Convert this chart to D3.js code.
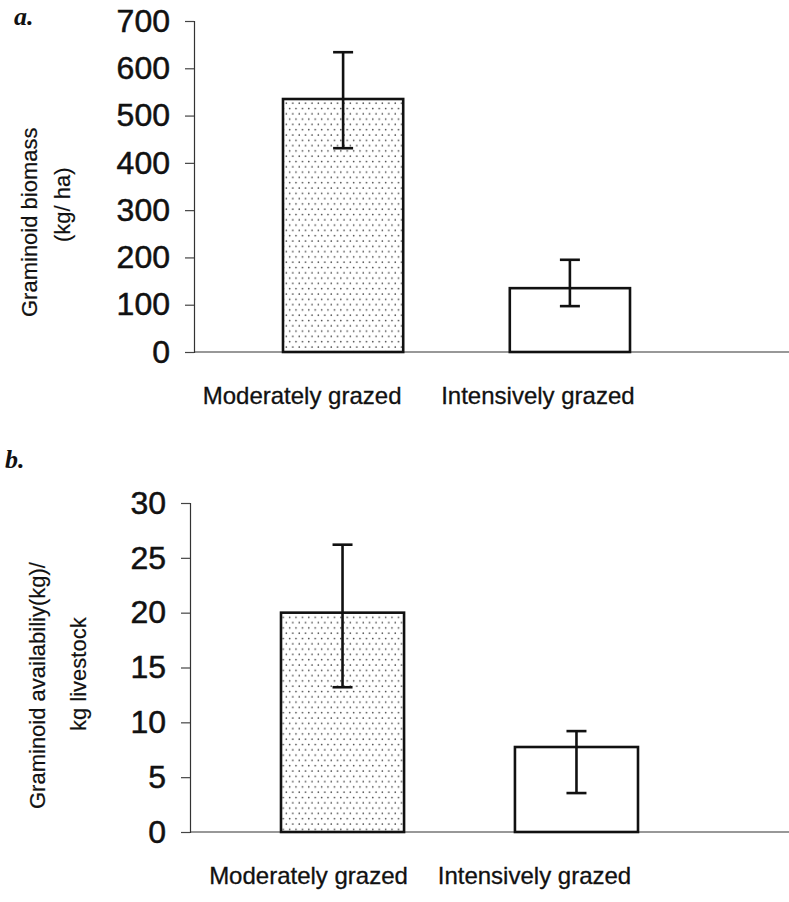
<!DOCTYPE html>
<html>
<head>
<meta charset="utf-8">
<script src="https://cdn.jsdelivr.net/npm/d3@7"></script>
<style>
  html, body { margin: 0; padding: 0; background: #fff; }
  svg { display: block; }
  text { fill: #111; }
</style>
</head>
<body>
<div id="chart"></div>
<script>
// Grazing treatments shown in both panels
const categories = ["Moderately grazed", "Intensively grazed"];

// Panel a: graminoid biomass (kg/ha), mean with error-bar limits
const biomassMean  = [535, 135];
const biomassUpper = [634, 195];
const biomassLower = [431, 97];
const biomassTicks = [0, 100, 200, 300, 400, 500, 600, 700];

// Panel b: graminoid availability (kg) per kg livestock
const availMean  = [20, 7.75];
const availUpper = [26.2, 9.2];
const availLower = [13.2, 3.55];
const availTicks = [0, 5, 10, 15, 20, 25, 30];

const SANS = "'Liberation Sans', Arial, sans-serif";
const SERIF = "'Liberation Serif', 'Times New Roman', serif";

const W = 789, H = 902;
const svg = d3.select("#chart").append("svg")
  .attr("width", W).attr("height", H);

// Stippled fill for the moderately grazed bars
const defs = svg.append("defs");
const pat = defs.append("pattern")
  .attr("id", "stipple")
  .attr("patternUnits", "userSpaceOnUse")
  .attr("width", 6.4).attr("height", 10.6);
pat.append("rect").attr("width", 6.4).attr("height", 10.6).attr("fill", "#fff");
pat.append("circle").attr("cx", 1.6).attr("cy", 2.6).attr("r", 0.8).attr("fill", "#3a3a3a");
pat.append("circle").attr("cx", 4.8).attr("cy", 7.9).attr("r", 0.8).attr("fill", "#3a3a3a");

const fills = ["url(#stipple)", "#fff"];

function panel(cfg) {
  const g = svg.append("g");
  const y = d3.scaleLinear().domain(cfg.domain).range([cfg.y0, cfg.y1]);
  const x = d3.scaleBand().domain(categories)
    .range(cfg.xRange).paddingInner(cfg.pad).paddingOuter(0);

  // baseline across the plot
  g.append("line")
    .attr("x1", cfg.axisX).attr("x2", cfg.baseEnd)
    .attr("y1", y(0)).attr("y2", y(0))
    .attr("stroke", "#333").attr("stroke-width", 1.2);

  // y axis
  const axis = d3.axisLeft(y).tickValues(cfg.ticks).tickSize(9).tickPadding(15)
    .tickFormat(d3.format("d"));
  const ax = g.append("g").attr("transform", `translate(${cfg.axisX},0)`).call(axis);
  ax.select(".domain").attr("stroke", "#333").attr("stroke-width", 1.2);
  ax.selectAll(".tick line").attr("stroke", "#444").attr("stroke-width", 1.2);
  ax.selectAll(".tick text")
    .style("font-family", SANS)
    .style("font-size", cfg.tickFont + "px")
    .style("fill", "#111")
    .style("stroke", "#111").style("stroke-width", 0.5);

  // bars
  g.selectAll("rect.bar").data(cfg.mean).join("rect")
    .attr("class", "bar")
    .attr("x", (d, i) => x(categories[i]))
    .attr("width", x.bandwidth())
    .attr("y", d => y(d))
    .attr("height", d => y(0) - y(d))
    .attr("fill", (d, i) => fills[i])
    .attr("stroke", "#111").attr("stroke-width", 2.6);

  // error bars
  const cap = 10;
  const eb = g.selectAll("g.err").data(cfg.mean).join("g").attr("class", "err");
  eb.append("line")
    .attr("x1", (d, i) => x(categories[i]) + x.bandwidth() / 2)
    .attr("x2", (d, i) => x(categories[i]) + x.bandwidth() / 2)
    .attr("y1", (d, i) => y(cfg.upper[i]))
    .attr("y2", (d, i) => y(cfg.lower[i]))
    .attr("stroke", "#111").attr("stroke-width", 2.6);
  ["upper", "lower"].forEach(k => {
    eb.append("line")
      .attr("x1", (d, i) => x(categories[i]) + x.bandwidth() / 2 - cap)
      .attr("x2", (d, i) => x(categories[i]) + x.bandwidth() / 2 + cap)
      .attr("y1", (d, i) => y(cfg[k][i]))
      .attr("y2", (d, i) => y(cfg[k][i]))
      .attr("stroke", "#111").attr("stroke-width", 2.6);
  });

  // category labels
  g.selectAll("text.cat").data(categories).join("text")
    .attr("class", "cat")
    .attr("x", (d, i) => x(d) + x.bandwidth() / 2 + cfg.labelShift[i])
    .attr("y", cfg.labelY)
    .attr("text-anchor", "middle")
    .style("font-family", SANS)
    .style("font-size", cfg.labelFont + "px")
    .style("stroke", "#111").style("stroke-width", 0.3)
    .text(d => d);

  // y-axis titles (two rotated lines)
  cfg.titles.forEach(t => {
    g.append("text")
      .attr("transform", `translate(${t.x},${t.y}) rotate(-90)`)
      .attr("text-anchor", "start")
      .style("font-family", SANS)
      .style("font-size", t.size + "px")
      .style("stroke", "#111").style("stroke-width", 0.2)
      .text(t.text);
  });

  // panel letter
  g.append("text")
    .attr("x", cfg.letter.x).attr("y", cfg.letter.y)
    .style("font-family", SERIF)
    .style("font-weight", "bold").style("font-style", "italic")
    .style("font-size", "26px")
    .text(cfg.letter.text);
}

panel({
  domain: [0, 700], y0: 352, y1: 21,
  xRange: [283, 630], pad: 0.47,
  axisX: 194, baseEnd: 789,
  ticks: biomassTicks, tickFont: 32,
  mean: biomassMean, upper: biomassUpper, lower: biomassLower,
  labelY: 404, labelFont: 24, labelShift: [-41, -32],
  titles: [
    { text: "Graminoid biomass", x: 37, y: 317, size: 22 },
    { text: "(kg/ ha)", x: 70, y: 242, size: 22 }
  ],
  letter: { text: "a.", x: 14, y: 25 }
});

panel({
  domain: [0, 30], y0: 832, y1: 503,
  xRange: [281, 638], pad: 0.474,
  axisX: 190, baseEnd: 789,
  ticks: availTicks, tickFont: 32,
  mean: availMean, upper: availUpper, lower: availLower,
  labelY: 884, labelFont: 24, labelShift: [-34, -42],
  titles: [
    { text: "Graminoid availabiliy(kg)/", x: 45, y: 809, size: 22 },
    { text: "kg livestock", x: 86, y: 731, size: 22 }
  ],
  letter: { text: "b.", x: 5, y: 468 }
});
</script>
</body>
</html>
